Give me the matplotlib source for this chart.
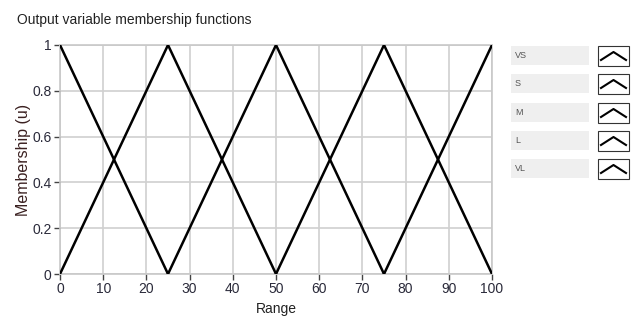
import matplotlib
matplotlib.use("Agg")
import matplotlib.pyplot as plt
from matplotlib.patches import Rectangle

plt.rcParams['font.family'] = ['Liberation Sans', 'DejaVu Sans']

# membership functions (x points, y points)
names = ["VS", "S", "M", "L", "VL"]
xs = [[0, 25], [0, 25, 50], [25, 50, 75], [50, 75, 100], [75, 100]]
ys = [[1, 0], [0, 1, 0], [0, 1, 0], [0, 1, 0], [0, 1]]
xticks = [0, 10, 20, 30, 40, 50, 60, 70, 80, 90, 100]
yticks = [0, 0.2, 0.4, 0.6, 0.8, 1]
ylabels = ["0", "0.2", "0.4", "0.6", "0.8", "1"]

fig = plt.figure(figsize=(6.36, 3.29), dpi=100)
ax = fig.add_axes([60 / 636, 1 - 274 / 329, 432 / 636, 229 / 329])

for x, y in zip(xs, ys):
    ax.plot(x, y, color="black", lw=1.8, solid_joinstyle="miter", zorder=3)

ax.set_xlim(0, 100)
ax.set_ylim(0, 1)
ax.set_xticks(xticks)
ax.set_yticks(yticks)
ax.set_yticklabels(ylabels)
ax.grid(True, color="#d0d0d0", lw=1.2)
for s in ax.spines.values():
    s.set_color("#c8c8c8")
    s.set_linewidth(1.2)
ax.tick_params(direction="out", length=4, width=1, color="#444444",
               labelsize=10, labelcolor="#2a2a3a", pad=2)
ax.set_xlabel("Range", fontsize=10, color="#222222", labelpad=4)
ax.set_ylabel("Membership (u)", fontsize=11.5, color="#3a2020", labelpad=1)

fig.text(17 / 636, 1 - 20 / 329, "Output variable membership functions",
         fontsize=10, color="#222222", va="center", ha="left")

# legend on the right
row_tops = [46, 74, 103, 131, 159]
for name, top in zip(names, row_tops):
    h = 19
    fig.patches.append(Rectangle((511 / 636, 1 - (top + h) / 329), 78 / 636, h / 329,
                                 transform=fig.transFigure, facecolor="#efefef",
                                 edgecolor="none"))
    fig.text(515 / 636, 1 - (top + h / 2) / 329, name, fontsize=6.5,
             color="#555555", va="center", ha="left")
    fig.patches.append(Rectangle((598 / 636, 1 - (top + 20) / 329), 31 / 636, 20 / 329,
                                 transform=fig.transFigure, facecolor="white",
                                 edgecolor="#333333", lw=0.8))
    ix = [601, 613.5, 626]
    iy = [top + 14, top + 6, top + 14]
    fig.lines.append(plt.Line2D([v / 636 for v in ix], [1 - v / 329 for v in iy],
                                transform=fig.transFigure, color="black", lw=1.5))

fig.savefig("out.png", dpi=100)
